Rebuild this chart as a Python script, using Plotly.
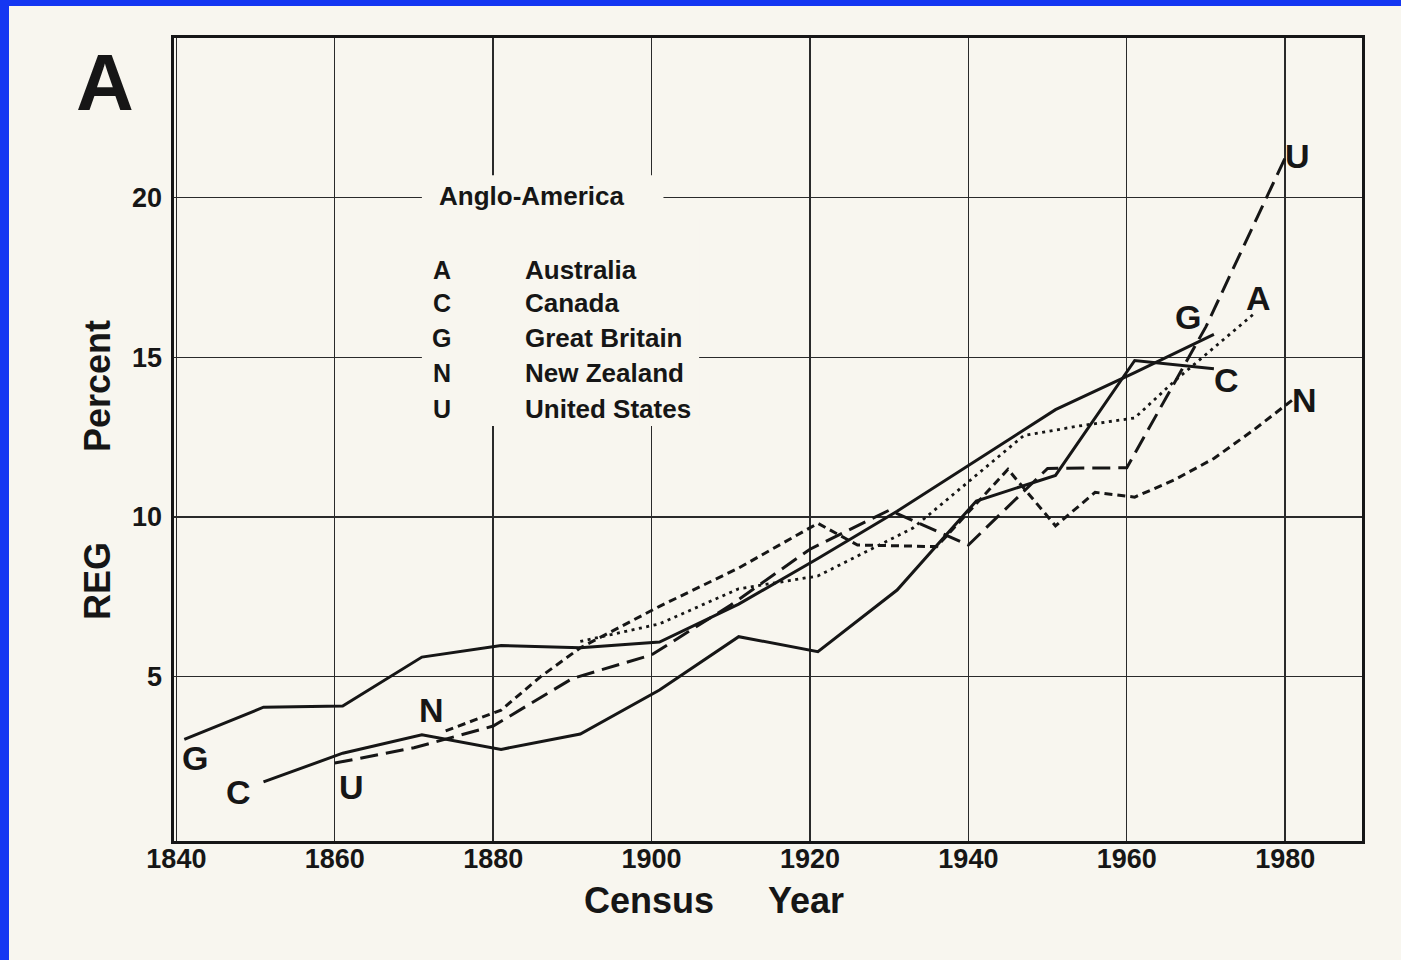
import plotly.graph_objects as go

# ---- data ----
gb_years = [1841, 1851, 1861, 1871, 1881, 1891, 1901, 1911, 1921, 1931, 1951, 1961, 1971]
gb_vals = [3.03, 4.04, 4.08, 5.61, 5.97, 5.90, 6.08, 7.27, 8.70, 10.18, 13.36, 14.52, 15.72]

ca_years = [1851, 1861, 1871, 1881, 1891, 1901, 1911, 1921, 1931, 1941, 1951, 1961, 1971]
ca_vals = [1.70, 2.60, 3.18, 2.72, 3.20, 4.58, 6.25, 5.78, 7.71, 10.50, 11.30, 14.90, 14.64]

us_years = [1860, 1870, 1880, 1890, 1900, 1910, 1920, 1930, 1940, 1950, 1960, 1970, 1980]
us_vals = [2.29, 2.77, 3.45, 4.94, 5.68, 7.24, 8.99, 10.21, 9.12, 11.52, 11.54, 15.96, 21.25]

nz_years = [1874, 1881, 1886, 1891, 1901, 1911, 1921, 1926, 1936, 1945, 1951, 1956, 1961, 1966, 1971, 1976, 1981]
nz_vals = [3.30, 3.95, 5.00, 5.90, 7.20, 8.40, 9.80, 9.12, 9.07, 11.49, 9.72, 10.77, 10.62, 11.16, 11.83, 12.72, 13.68]

au_years = [1891, 1901, 1911, 1921, 1933, 1947, 1954, 1961, 1966, 1971, 1976]
au_vals = [6.10, 6.65, 7.75, 8.15, 9.65, 12.55, 12.85, 13.10, 14.25, 15.30, 16.35]

x_ticks = [1840, 1860, 1880, 1900, 1920, 1940, 1960, 1980]
y_ticks = [5, 10, 15, 20]

legend_codes = ["A", "C", "G", "N", "U"]
legend_names = ["Australia", "Canada", "Great Britain", "New Zealand", "United States"]
legend_vals = [17.74, 16.70, 15.60, 14.50, 13.39]

# label positions next to line ends (data coords)
end_labels = [
    ("G", 1842.3, 2.44), ("C", 1847.9, 1.40), ("U", 1862.1, 1.55), ("N", 1872.2, 3.96),
    ("U", 1981.6, 21.3), ("A", 1976.6, 16.85), ("G", 1967.7, 16.26), ("C", 1972.6, 14.3),
    ("N", 1982.4, 13.67),
]

INK = "#161616"
PAPER = "#F8F6EF"
BLUE = "#1537F2"
FONT = "Liberation Sans, Arial, Helvetica, sans-serif"

W, H = 1401, 960
L, T, PW, PH = 174, 38, 1188, 803


def P(px, py):
    return (px - L) / PW, 1 - (py - T) / PH


fig = go.Figure()

series = [
    (gb_years, gb_vals, "Great Britain", "solid", 3),
    (ca_years, ca_vals, "Canada", "solid", 3),
    (us_years, us_vals, "United States", "18px,8px", 3),
    (nz_years, nz_vals, "New Zealand", "8px,5px", 3),
    (au_years, au_vals, "Australia", "3px,4.5px", 2.8),
]
for xs, ys, name, dash, lw in series:
    fig.add_trace(go.Scatter(
        x=xs, y=ys, mode="lines", name=name,
        line=dict(color=INK, width=lw, dash=dash),
        showlegend=False, hoverinfo="skip",
    ))

shapes = [
    # legend box hiding grid lines
    dict(type="rect", xref="x", yref="y", x0=1871, x1=1901.5, y0=19.3, y1=20.7,
         fillcolor=PAPER, line=dict(width=0), layer="above"),
    dict(type="rect", xref="x", yref="y", x0=1871, x1=1906, y0=12.85, y1=19.35,
         fillcolor=PAPER, line=dict(width=0), layer="above"),
]
# blue border strips (left and top)
x0p, y0p = P(0, 0)
x9p, _ = P(9, 0)
_, y6p = P(0, 6)
x_rp, y_bp = P(W, H)
shapes.append(dict(type="rect", xref="paper", yref="paper", x0=x0p, x1=x9p, y0=y_bp, y1=y0p,
                   fillcolor=BLUE, line=dict(width=0), layer="above"))
shapes.append(dict(type="rect", xref="paper", yref="paper", x0=x0p, x1=x_rp, y0=y6p, y1=y0p,
                   fillcolor=BLUE, line=dict(width=0), layer="above"))

annotations = []
for code, xx, yy in end_labels:
    annotations.append(dict(x=xx, y=yy, xref="x", yref="y", text=code, showarrow=False,
                            font=dict(family=FONT, size=34, color=INK, weight="bold"),
                            xanchor="center", yanchor="middle"))

annotations.append(dict(x=1884.9, y=20.05, xref="x", yref="y", text="Anglo-America", showarrow=False,
                        font=dict(family=FONT, size=26, color=INK, weight="bold"),
                        xanchor="center", yanchor="middle"))
for code, name, v in zip(legend_codes, legend_names, legend_vals):
    annotations.append(dict(x=1873.5, y=v, xref="x", yref="y", text=code, showarrow=False,
                            font=dict(family=FONT, size=25, color=INK, weight="bold"),
                            xanchor="center", yanchor="middle"))
    annotations.append(dict(x=1883.8, y=v, xref="x", yref="y", text=name, showarrow=False,
                            font=dict(family=FONT, size=26, color=INK, weight="bold"),
                            xanchor="left", yanchor="middle"))

# panel letter
ax, ay = P(105, 82)
annotations.append(dict(x=ax, y=ay, xref="paper", yref="paper", text="A", showarrow=False,
                        font=dict(family=FONT, size=80, color=INK, weight="bold"),
                        xanchor="center", yanchor="middle"))
# axis titles
tx, ty = P(714, 900)
annotations.append(dict(x=tx, y=ty, xref="paper", yref="paper", text="Census\u2003\u2002Year",
                        showarrow=False, font=dict(family=FONT, size=36, color=INK, weight="bold"),
                        xanchor="center", yanchor="middle"))
yx, yy_ = P(97, 470)
annotations.append(dict(x=yx, y=yy_, xref="paper", yref="paper", text="REG\u2003\u2003\u2002Percent",
                        showarrow=False, textangle=-90,
                        font=dict(family=FONT, size=36, color=INK, weight="bold"),
                        xanchor="center", yanchor="middle"))

fig.update_layout(
    width=W, height=H,
    margin=dict(l=L, r=W - L - PW, t=T, b=H - T - PH, autoexpand=False),
    paper_bgcolor=PAPER, plot_bgcolor=PAPER,
    shapes=shapes, annotations=annotations,
    showlegend=False,
)
fig.update_xaxes(
    range=[1839.7, 1989.7], tickvals=x_ticks, ticktext=[str(t) for t in x_ticks],
    showgrid=True, gridcolor="#2a2a2a", gridwidth=1.4,
    showline=True, linecolor=INK, linewidth=2.6, mirror=True,
    zeroline=False, ticks="", ticklabelstandoff=-8,
    tickfont=dict(family=FONT, size=27, color=INK, weight="bold"),
)
fig.update_yaxes(
    range=[-0.15, 25.0], tickvals=y_ticks, ticktext=[str(t) for t in y_ticks],
    showgrid=True, gridcolor="#2a2a2a", gridwidth=1.4,
    showline=True, linecolor=INK, linewidth=2.6, mirror=True,
    zeroline=False, ticks="", ticklabelstandoff=4,
    tickfont=dict(family=FONT, size=27, color=INK, weight="bold"),
)

fig.write_html(
    "out.html",
    config={"displayModeBar": False, "staticPlot": True},
    post_script="document.documentElement.style.margin='0';document.body.style.margin='0';"
                "document.body.style.overflow='hidden';",
)
